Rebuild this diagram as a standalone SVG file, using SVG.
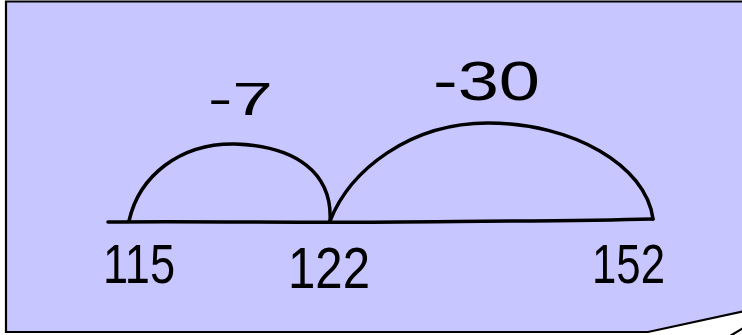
<svg xmlns="http://www.w3.org/2000/svg" width="742" height="335" viewBox="0 0 742 335">
<style>
.ln{fill:none;stroke:#000;stroke-width:3.5;stroke-linecap:round;stroke-linejoin:round}
.t{font-family:"Liberation Sans","DejaVu Sans",sans-serif;fill:#000}
</style>
<rect width="742" height="335" fill="#fff"/>
<g id="bubble">
<path d="M6,1.5 L745,1.5 L745,311 L648,332 L6,332 Z" fill="#C8C6FF" stroke="#000" stroke-width="2.2"/>
<path d="M730,336 L745,327" fill="none" stroke="#000" stroke-width="2.2"/>
</g>
<g id="connectors">
<path class="ln" d="M108,222 C200,221 300,223 400,222 C500,221 580,221 653,219"/>
<path class="ln" d="M129,221 C139,176 180,143 235,144 C296,146 333,173 330,222"/>
<path class="ln" d="M330,221 C350,170 410,123 488,123 C572,123 646,165 653,219"/>
</g>
<g id="n115"><text class="t" x="103" y="283" font-size="56" textLength="72" lengthAdjust="spacingAndGlyphs">115</text></g>
<g id="n122"><text class="t" x="288" y="288" font-size="58" textLength="82" lengthAdjust="spacingAndGlyphs">122</text></g>
<g id="n152"><text class="t" x="592" y="283" font-size="56" textLength="73" lengthAdjust="spacingAndGlyphs">152</text></g>
<g id="lm7"><text class="t" x="208" y="115" font-size="46" textLength="65" lengthAdjust="spacingAndGlyphs">-7</text></g>
<g id="lm30"><text class="t" x="433" y="100" font-size="56" textLength="107" lengthAdjust="spacingAndGlyphs">-30</text></g>
</svg>
